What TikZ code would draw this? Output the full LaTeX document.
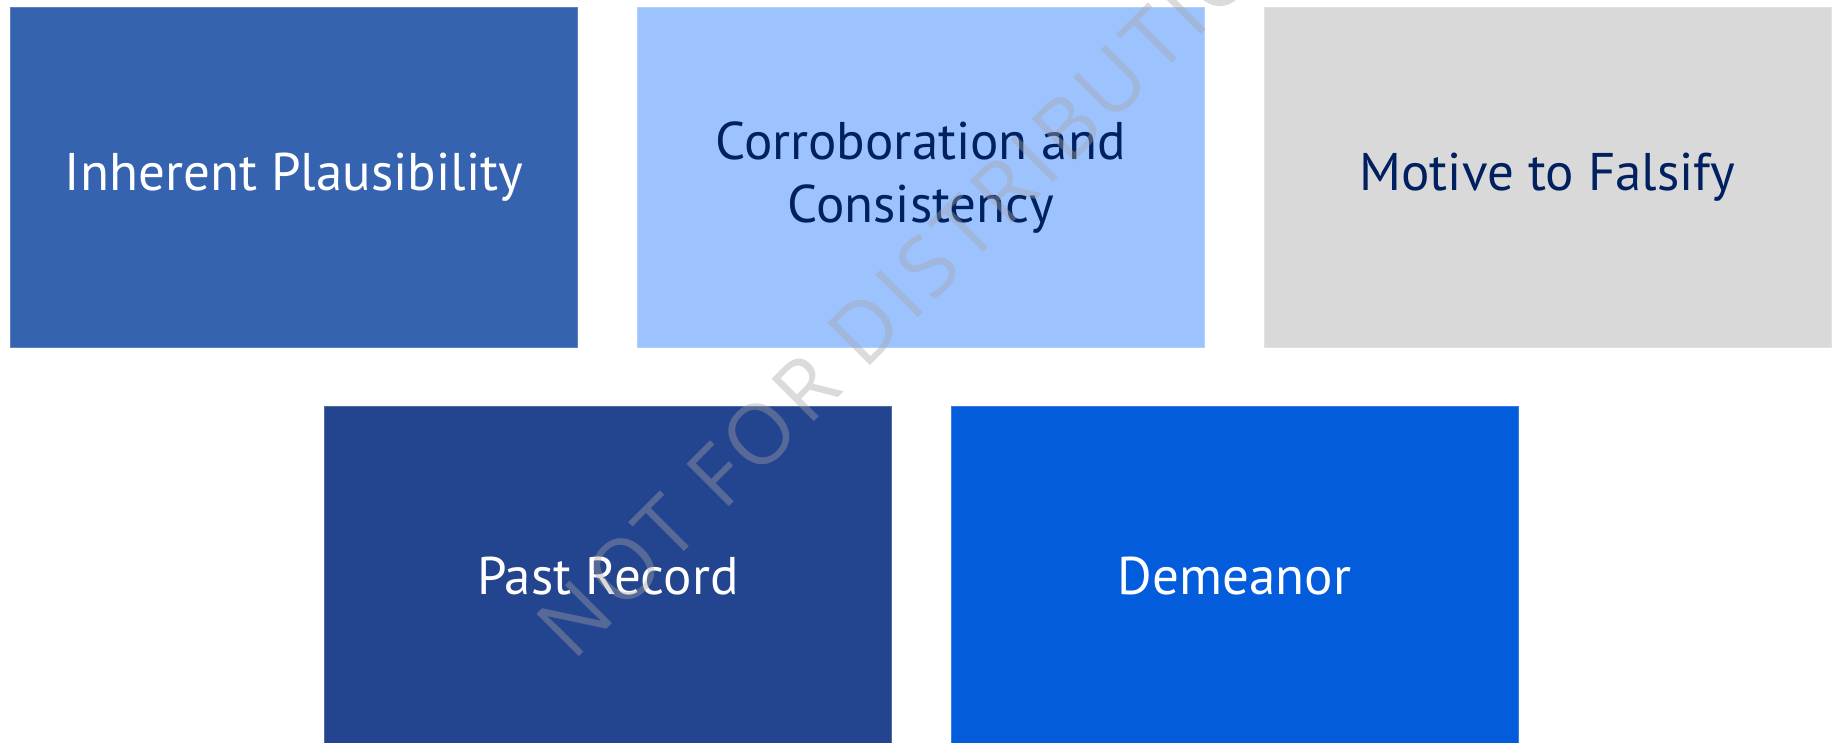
\documentclass[tikz,border=0pt]{standalone}
\usepackage{fontspec}
\setmainfont{PT Sans}
\newfontfamily\wmfont{Open Sans}[LetterSpace=7]
\usetikzlibrary{positioning}
\definecolor{midblue}{HTML}{3563AF}
\definecolor{paleblue}{HTML}{9DC3FF}
\definecolor{lightgrey}{HTML}{D9D9D9}
\definecolor{deepblue}{HTML}{23448F}
\definecolor{brightblue}{HTML}{025CDB}
\definecolor{navy}{HTML}{002060}
\definecolor{wmgrey}{RGB}{165,165,165}

\begin{document}
\begin{tikzpicture}[x=1pt,y=1pt,node distance=59pt, card/.style={fill=#1,draw=#1!80!white,line width=0.8pt,minimum width=567pt,minimum height=340pt,inner sep=0pt,align=center,font=\fontsize{53}{63}\selectfont}, lighttext/.style={text=white}, darktext/.style={text=navy}]
\clip (0,0) rectangle (1835,742);
\node[card=midblue,lighttext,anchor=north west] (P) at (10,735) {Inherent Plausibility};
\node[card=paleblue,darktext,right=of P] (C) {Corroboration and\\Consistency};
\node[card=lightgrey,darktext,right=of C] (M) {Motive to Falsify};
\node[card=deepblue,lighttext,below=58pt of P.south east,xshift=30pt] (R) {Past Record};
\node[card=brightblue,lighttext,right=of R] (D) {Demeanor};
% watermark across the cards
\node[anchor=base west,rotate=45,inner sep=0pt,text=wmgrey,opacity=0.4,font=\wmfont\fontsize{84}{84}\selectfont] (W) at (573,79) {NOT FOR DISTRIBUTION};
\end{tikzpicture}
\end{document}
